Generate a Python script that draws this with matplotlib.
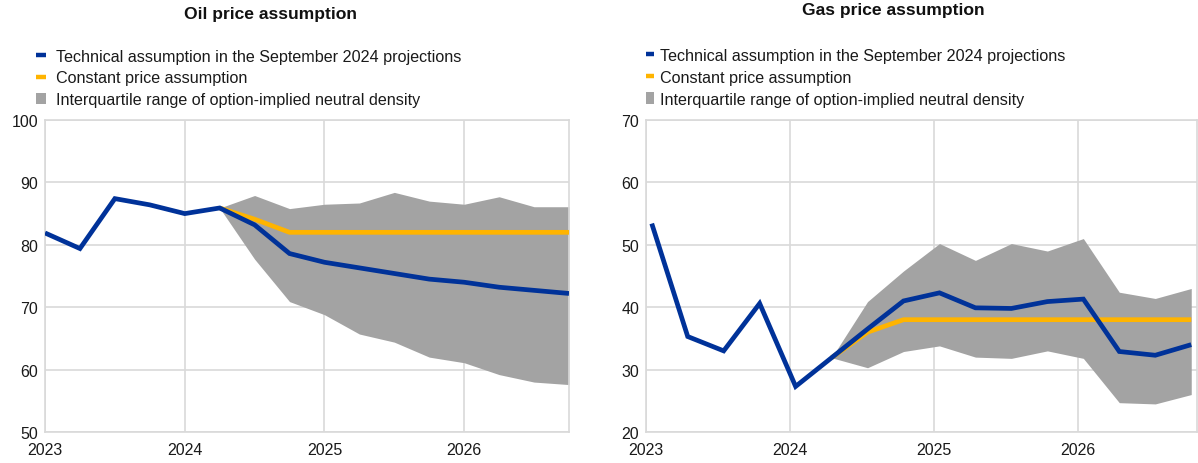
import matplotlib
matplotlib.use("Agg")
import matplotlib.pyplot as plt
from matplotlib.lines import Line2D
from matplotlib.patches import Patch

plt.rcParams['font.family'] = ['Liberation Sans', 'DejaVu Sans']

# ---- data ----
quarters = ["2023Q1", "2023Q2", "2023Q3", "2023Q4",
            "2024Q1", "2024Q2", "2024Q3", "2024Q4",
            "2025Q1", "2025Q2", "2025Q3", "2025Q4",
            "2026Q1", "2026Q2", "2026Q3", "2026Q4"]

oil_technical = [81.9, 79.4, 87.4, 86.4, 85.0, 85.9, 83.2, 78.6,
                 77.2, 76.3, 75.4, 74.5, 74.0, 73.2, 72.7, 72.2]
oil_constant = [None, None, None, None, None, 85.9, 84.1, 82.0,
                82.0, 82.0, 82.0, 82.0, 82.0, 82.0, 82.0, 82.0]
oil_iqr_upper = [None, None, None, None, None, 85.9, 87.9, 85.8,
                 86.5, 86.7, 88.4, 87.0, 86.5, 87.7, 86.1, 86.1]
oil_iqr_lower = [None, None, None, None, None, 85.9, 77.7, 70.9,
                 68.8, 65.7, 64.4, 62.0, 61.1, 59.2, 58.0, 57.6]

gas_technical = [53.4, 35.3, 33.0, 40.6, 27.3, 31.9, 36.5, 41.0,
                 42.3, 39.9, 39.8, 40.9, 41.3, 32.9, 32.3, 34.0]
gas_constant = [None, None, None, None, None, 31.9, 36.0, 38.0,
                38.0, 38.0, 38.0, 38.0, 38.0, 38.0, 38.0, 38.0]
gas_iqr_upper = [None, None, None, None, None, 31.9, 40.9, 45.8,
                 50.2, 47.5, 50.2, 49.0, 51.0, 42.4, 41.4, 43.0]
gas_iqr_lower = [None, None, None, None, None, 31.9, 30.3, 32.9,
                 33.8, 32.0, 31.8, 33.0, 31.8, 24.7, 24.5, 26.0]

years = [2023, 2024, 2025, 2026]
titles = ["Oil price assumption", "Gas price assumption"]
legend_labels = ["Technical assumption in the September 2024 projections",
                 "Constant price assumption",
                 "Interquartile range of option-implied neutral density"]

BLUE = "#003299"
YELLOW = "#FFB400"
GREY = "#A3A3A3"
GRID = "#D9D9D9"
TXT = "#1A1A1A"


def qpos(labels, offset):
    return [int(s[:4]) + (int(s[5]) - 1) / 4 + offset for s in labels]


def pick(xs, vals):
    pts = [(x, v) for x, v in zip(xs, vals) if v is not None]
    return [p[0] for p in pts], [p[1] for p in pts]


fig = plt.figure(figsize=(11.98, 4.64), dpi=100)
W, H = 1198, 464
axL = fig.add_axes([45 / W, (H - 433) / H, (569 - 45) / W, (433 - 121) / H])
axR = fig.add_axes([646 / W, (H - 433) / H, (1197 - 646) / W, (433 - 121) / H])

specs = [
    (axL, oil_technical, oil_constant, oil_iqr_upper, oil_iqr_lower, 0.0,
     (2023, 2026.75), (50, 100), [50, 60, 70, 80, 90, 100]),
    (axR, gas_technical, gas_constant, gas_iqr_upper, gas_iqr_lower, 0.04,
     (2023, 2026.83), (20, 70), [20, 30, 40, 50, 60, 70]),
]

for ax, tech, const, up, lo, off, xlim, ylim, yt in specs:
    xs = qpos(quarters, off)
    xb, ub = pick(xs, up)
    _, lb = pick(xs, lo)
    ax.fill_between(xb, lb, ub, color=GREY, linewidth=0, zorder=2)
    xc, vc = pick(xs, const)
    ax.plot(xc, vc, color=YELLOW, linewidth=3.4, zorder=3, solid_capstyle='butt')
    ax.plot(xs, tech, color=BLUE, linewidth=3.4, zorder=4, solid_capstyle='butt',
            solid_joinstyle='miter')
    ax.set_xlim(*xlim)
    ax.set_ylim(*ylim)
    ax.set_yticks(yt)
    ax.set_xticks(years)
    ax.set_xticklabels([str(y) for y in years])
    ax.grid(True, color=GRID, linewidth=1.2, zorder=0)
    ax.set_axisbelow(True)
    for s in ax.spines.values():
        s.set_color(GRID)
        s.set_linewidth(1.2)
    ax.tick_params(length=0, labelsize=11.5, colors=TXT, pad=5)
    ax.tick_params(axis='x', pad=7)

# titles
fig.text(270 / W, 1 - 15 / H, titles[0], ha='center', va='center',
         fontsize=12.6, fontweight='bold', color="#111111")
fig.text(893 / W, 1 - 10 / H, titles[1], ha='center', va='center',
         fontsize=12.6, fontweight='bold', color="#111111")

handles = [Line2D([0], [0], color=BLUE, linewidth=3.2, solid_capstyle='butt'),
           Line2D([0], [0], color=YELLOW, linewidth=3.2, solid_capstyle='butt'),
           Patch(facecolor=GREY, edgecolor='none')]

for x0, y0, hl, pad in [(36 / W, 1 - 49.5 / H, 0.62, 0.62), (646 / W, 1 - 49 / H, 0.5, 0.37)]:
    fig.legend(handles, legend_labels, loc='upper left', bbox_to_anchor=(x0, y0),
               frameon=False, fontsize=11.6, borderpad=0, borderaxespad=0,
               handlelength=hl, handleheight=0.75, handletextpad=pad,
               labelspacing=0.42, labelcolor=TXT)

fig.savefig("out.png", dpi=100)
